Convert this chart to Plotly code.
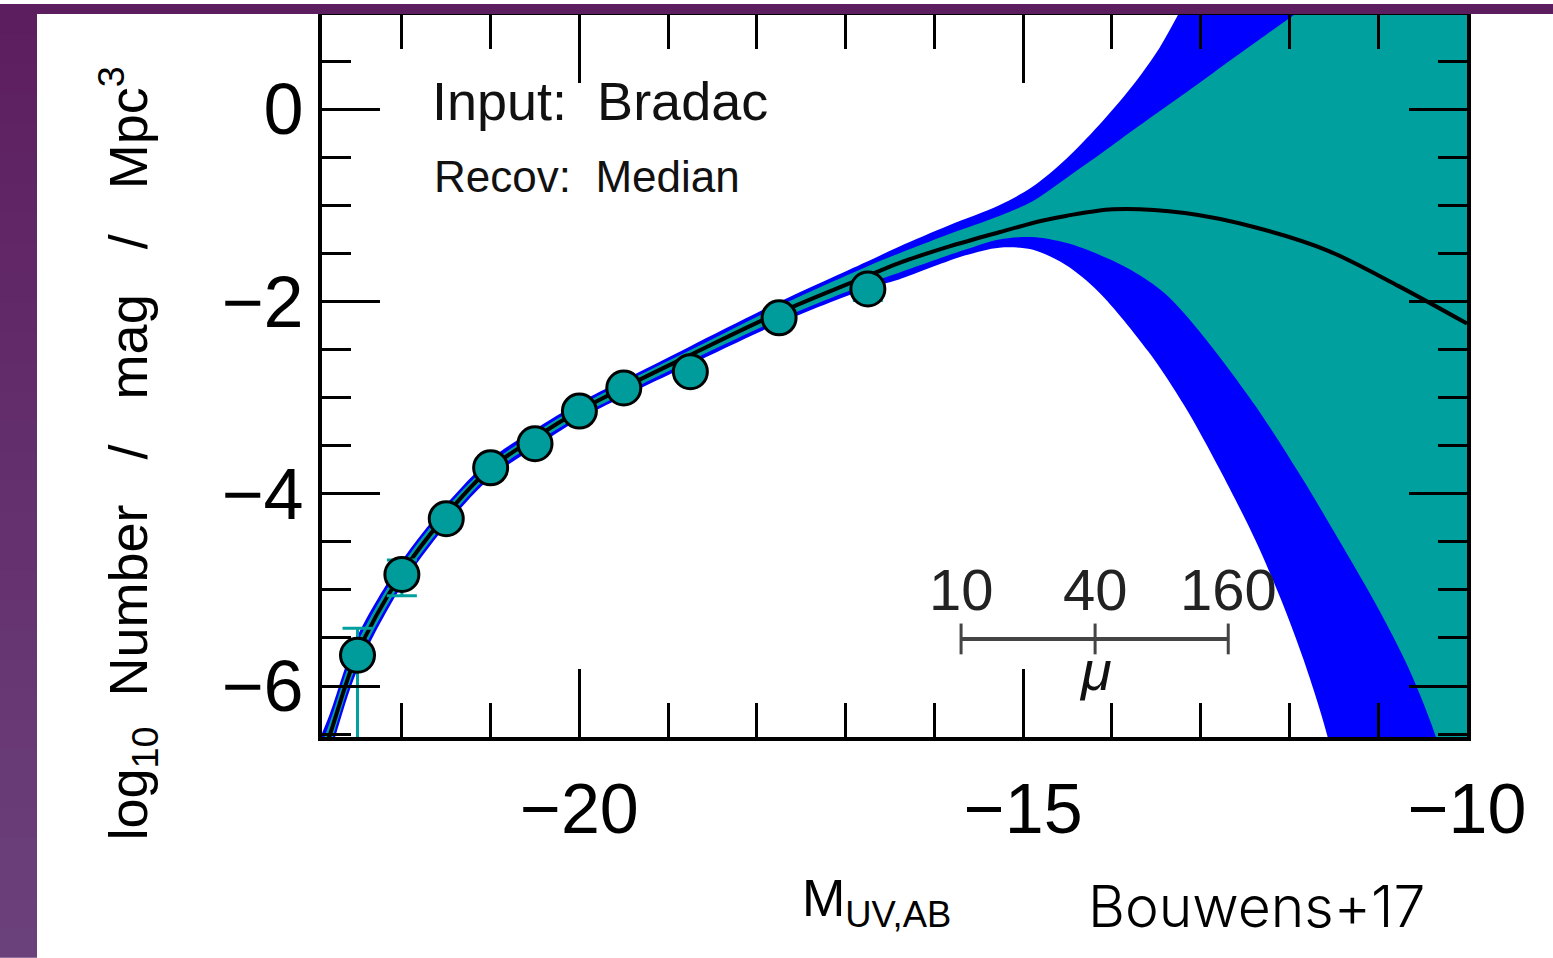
import plotly.graph_objects as go

# Figure geometry (px)
W, H = 1553, 958
ML, MR, MT, MB = 322, 86, 11, 221

# ---------------- data ----------------
# Binned UV luminosity function (input: Bradac model, recovered: median)
mag_obs = [-22.5, -22.0, -21.5, -21.0, -20.5, -20.0, -19.5, -18.75, -17.75, -16.75]
logphi_obs = [-5.68, -4.84, -4.26, -3.73, -3.48, -3.14, -2.90, -2.73, -2.17, -1.87]
err_up = [0.28, 0.15, 0.08, 0.06, 0.05, 0.05, 0.05, 0.06, 0.08, 0.10]
err_dn = [1.00, 0.22, 0.10, 0.07, 0.06, 0.06, 0.06, 0.07, 0.10, 0.12]

# Median fitted luminosity function
mag_fit = [-22.95, -22.82, -22.51, -22.01, -21.52, -21.01, -20.52, -20.01, -19.51,
           -18.76, -17.76, -16.77, -16.40, -15.84, -15.27, -14.79, -14.52, -13.99,
           -13.18, -12.38, -11.57, -10.77, -10.00]
logphi_fit = [-6.85, -6.53, -5.68, -4.84, -4.24, -3.74, -3.43, -3.14, -2.90,
              -2.56, -2.12, -1.74, -1.60, -1.43, -1.28, -1.16, -1.11, -1.04,
              -1.08, -1.23, -1.47, -1.84, -2.23]

# Outer (2-sigma) uncertainty band edges
blue_up_x = [-22.95, -22.82, -22.51, -22.01, -21.52, -21.01, -20.52, -20.01, -19.51,
             -18.76, -17.76, -16.77, -16.40, -15.84, -15.27, -14.90, -14.52, -14.15,
             -13.78, -13.47, -13.28, -13.02, -12.69, -9.80]
blue_up_y = [-6.60, -6.31, -5.50, -4.71, -4.13, -3.645, -3.34, -3.055, -2.82,
             -2.47, -2.01, -1.59, -1.43, -1.21, -1.00, -0.81, -0.52, -0.17,
             0.23, 0.63, 0.94, 1.41, 2.00, 3.00]
blue_lo_x = [-22.95, -22.82, -22.51, -22.01, -21.52, -21.01, -20.52, -20.01, -19.51,
             -18.76, -17.76, -16.77, -16.40, -15.65, -15.27, -14.90, -14.52, -14.15,
             -13.59, -13.18, -12.79, -12.38, -12.10, -11.84, -11.57, -11.47, -9.80]
blue_lo_y = [-7.10, -6.74, -5.85, -4.97, -4.35, -3.84, -3.53, -3.23, -2.99,
             -2.66, -2.23, -1.87, -1.77, -1.52, -1.44, -1.46, -1.62, -1.90,
             -2.52, -3.09, -3.74, -4.49, -5.09, -5.73, -6.53, -7.00, -7.50]

# Inner (1-sigma) uncertainty band edges
teal_up_x = [-22.95, -22.82, -22.51, -22.01, -21.52, -21.01, -20.52, -20.01, -19.51,
             -18.76, -17.76, -16.77, -16.40, -15.84, -15.27, -14.90, -14.52, -14.15,
             -13.78, -13.40, -13.02, -12.65, -12.27, -12.01, -11.67, -10.77, -9.80]
teal_up_y = [-6.71, -6.40, -5.57, -4.76, -4.17, -3.69, -3.38, -3.09, -2.85,
             -2.51, -2.05, -1.64, -1.50, -1.30, -1.11, -0.96, -0.72, -0.48,
             -0.23, 0.02, 0.27, 0.52, 0.77, 0.94, 1.17, 1.77, 3.00]
teal_lo_x = [-22.95, -22.82, -22.51, -22.01, -21.52, -21.01, -20.52, -20.01, -19.51,
             -18.76, -17.76, -16.77, -16.40, -15.65, -15.27, -14.90, -14.52, -14.15,
             -13.78, -13.40, -12.98, -12.38, -11.85, -11.45, -11.02, -10.66, -10.35,
             -10.25, -9.80]
teal_lo_y = [-6.99, -6.65, -5.78, -4.92, -4.31, -3.80, -3.485, -3.195, -2.96,
             -2.62, -2.19, -1.82, -1.70, -1.46, -1.355, -1.33, -1.39, -1.51,
             -1.675, -1.92, -2.35, -3.09, -3.85, -4.47, -5.16, -5.81, -6.53,
             -6.90, -7.50]

# Magnification scale bar
mu_labels = ["10", "40", "160"]
mu_mag = [-15.70, -14.19, -12.69]
mu_bar_y = -5.51
mu_label_y = -5.00
mu_symbol_y = -5.84

xrange_ = [-22.90, -10.00]
yrange_ = [-6.53, 0.98]

TEAL = "#00A09E"
MARK = "#009B9B"
BLUE = "#0000FF"
FONT = "Liberation Sans, Arial, sans-serif"

fig = go.Figure()

fig.add_trace(go.Scatter(
    x=blue_up_x + blue_lo_x[::-1], y=blue_up_y + blue_lo_y[::-1],
    mode="lines", fill="toself", fillcolor=BLUE,
    line=dict(width=0, color=BLUE, shape="spline", smoothing=0.9),
    hoverinfo="skip", showlegend=False))
fig.add_trace(go.Scatter(
    x=teal_up_x + teal_lo_x[::-1], y=teal_up_y + teal_lo_y[::-1],
    mode="lines", fill="toself", fillcolor=TEAL,
    line=dict(width=0, color=TEAL, shape="spline", smoothing=0.9),
    hoverinfo="skip", showlegend=False))
fig.add_trace(go.Scatter(
    x=mag_fit, y=logphi_fit, mode="lines",
    line=dict(color="black", width=4, shape="spline", smoothing=0.9), showlegend=False))
fig.add_trace(go.Scatter(
    x=mag_obs, y=logphi_obs, mode="markers",
    marker=dict(size=34, color=MARK, line=dict(color="black", width=3)),
    error_y=dict(type="data", symmetric=False, array=err_up, arrayminus=err_dn,
                 color=TEAL, thickness=3, width=15),
    showlegend=False))
fig.add_trace(go.Scatter(
    x=mu_mag, y=[mu_bar_y] * len(mu_mag), mode="lines+markers",
    line=dict(color="#444444", width=4),
    marker=dict(symbol="line-ns-open", size=22, line=dict(color="#444444", width=3)),
    showlegend=False, hoverinfo="skip"))

annotations = []
for lab, m in zip(mu_labels, mu_mag):
    annotations.append(dict(x=m, y=mu_label_y, xref="x", yref="y", text=lab,
                            showarrow=False, font=dict(family=FONT, size=58, color="#222222")))
annotations.append(dict(x=mu_mag[1], y=mu_symbol_y, xref="x", yref="y", text="<i>μ</i>",
                        showarrow=False, font=dict(family=FONT, size=56, color="#111111")))
annotations.append(dict(x=-21.685, y=0.09, xref="x", yref="y", text="Input:  Bradac",
                        xanchor="left", showarrow=False,
                        font=dict(family=FONT, size=54, color="#111111")))
annotations.append(dict(x=-21.66, y=-0.70, xref="x", yref="y", text="Recov:  Median",
                        xanchor="left", showarrow=False,
                        font=dict(family=FONT, size=44, color="#111111")))

pw = W - ML - MR
ph = H - MT - MB


def px_x(px):
    return (px - ML) / pw


def px_y(py):
    return (H - MB - py) / ph


annotations.append(dict(x=px_x(128), y=px_y(452), xref="paper", yref="paper",
                        text="log<sub>10</sub>  Number   /   mag   /   Mpc<sup>3</sup>",
                        textangle=-90, showarrow=False, xanchor="center", yanchor="middle",
                        font=dict(family=FONT, size=54, color="black")))
annotations.append(dict(x=px_x(800), y=px_y(903), xref="paper", yref="paper",
                        text="M<sub>UV,AB</sub>", showarrow=False, xanchor="left",
                        yanchor="middle", font=dict(family=FONT, size=52, color="black")))
annotations.append(dict(x=px_x(1086), y=px_y(907), xref="paper", yref="paper",
                        text="Bouwens+17", showarrow=False, xanchor="left", yanchor="middle",
                        font=dict(family="Inter, Liberation Sans, sans-serif", size=57,
                                  color="black", weight=300)))

# Purple slide frame: vertical gradient strip on the left, band across the top
shapes = []
n_band = 32
c0 = (93, 30, 95)
c1 = (107, 65, 123)
for i in range(n_band):
    f = i / (n_band - 1)
    col = "rgb(%d,%d,%d)" % tuple(round(a + (b - a) * f) for a, b in zip(c0, c1))
    y_top = i * H / n_band
    y_bot = (i + 1) * H / n_band + 1
    shapes.append(dict(type="rect", xref="paper", yref="paper",
                       x0=px_x(0), x1=px_x(37), y0=px_y(y_bot), y1=px_y(y_top),
                       fillcolor=col, line=dict(width=0), layer="above"))
shapes.append(dict(type="rect", xref="paper", yref="paper",
                   x0=px_x(0), x1=px_x(W), y0=px_y(10), y1=px_y(0),
                   fillcolor="rgb(%d,%d,%d)" % c0, line=dict(width=0), layer="above"))

axis_common = dict(ticks="inside", tickwidth=3, tickcolor="black", showline=True,
                   linewidth=4, linecolor="black", mirror="allticks", showgrid=False,
                   zeroline=False)

fig.update_layout(
    width=W, height=H, margin=dict(l=ML, r=MR, t=MT, b=MB, pad=0),
    paper_bgcolor="white", plot_bgcolor="white", showlegend=False,
    xaxis=dict(range=xrange_, tickmode="linear", tick0=-20, dtick=5, ticklen=68,
               tickfont=dict(family=FONT, size=70, color="black"), ticklabelstandoff=8,
               minor=dict(tick0=-20, dtick=1, ticks="inside", ticklen=34, tickwidth=3,
                          tickcolor="black", showgrid=False),
               **axis_common),
    yaxis=dict(range=yrange_, tickmode="linear", tick0=0, dtick=2, ticklen=58,
               tickfont=dict(family=FONT, size=72, color="black"), ticklabelstandoff=0,
               minor=dict(tick0=0, dtick=0.5, ticks="inside", ticklen=29, tickwidth=3,
                          tickcolor="black", showgrid=False),
               **axis_common),
    annotations=annotations,
    shapes=shapes,
)

fig.write_html("out.html")
